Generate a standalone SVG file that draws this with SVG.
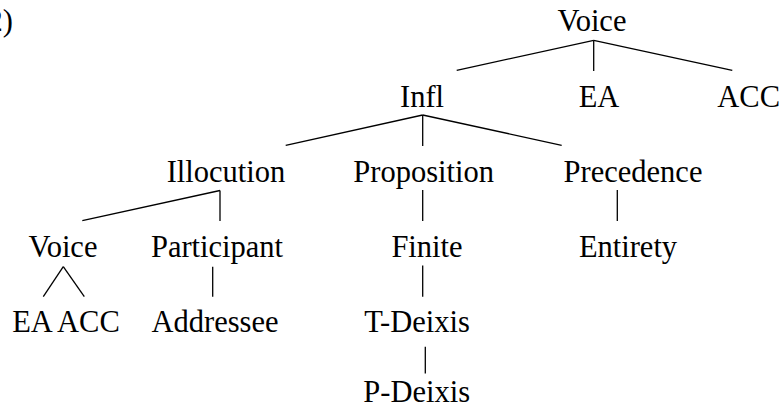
<svg xmlns="http://www.w3.org/2000/svg" width="782" height="407" viewBox="0 0 782 407">
<style>
text{font-family:"Liberation Serif","Times New Roman",serif;font-size:30.5px;fill:#000;text-anchor:middle}
.c line{stroke:#000;stroke-width:1.3;fill:none}
</style>
<rect width="782" height="407" fill="#fff"/>
<text x="13" y="31" style="text-anchor:end">2)</text>
<g class="c" id="connectors">
<line x1="593.7" y1="40.3" x2="456.7" y2="70.3"/>
<line x1="593.7" y1="40.3" x2="593.7" y2="71"/>
<line x1="593.7" y1="40.3" x2="732.3" y2="70.3"/>
<line x1="422.7" y1="115" x2="285.7" y2="145.3"/>
<line x1="422.7" y1="115" x2="422.7" y2="146"/>
<line x1="422.7" y1="115" x2="561.7" y2="145.3"/>
<line x1="220" y1="190.5" x2="82.3" y2="220.7"/>
<line x1="220" y1="190.5" x2="220" y2="221"/>
<line x1="422.7" y1="190" x2="422.7" y2="221"/>
<line x1="617.3" y1="190" x2="617.3" y2="221"/>
<line x1="63.3" y1="266.7" x2="43.3" y2="296.7"/>
<line x1="63.3" y1="266.7" x2="84.3" y2="296.7"/>
<line x1="212.7" y1="266.7" x2="212.7" y2="296.7"/>
<line x1="422.7" y1="265.5" x2="422.7" y2="296.7"/>
<line x1="425.3" y1="346.7" x2="425.3" y2="373.5"/>
</g>
<g id="voice-root"><text x="592" y="30.7">Voice</text></g>
<g id="infl"><text x="422" y="106.7">Infl</text></g>
<g id="ea-top"><text x="599" y="106.7">EA</text></g>
<g id="acc-top"><text x="748.7" y="106.7">ACC</text></g>
<g id="illocution"><text x="226" y="181.5">Illocution</text></g>
<g id="proposition"><text x="423.7" y="181.5">Proposition</text></g>
<g id="precedence"><text x="633" y="181.5">Precedence</text></g>
<g id="voice-low"><text x="63" y="256.7">Voice</text></g>
<g id="participant"><text x="217" y="256.7">Participant</text></g>
<g id="finite"><text x="427" y="256.7">Finite</text></g>
<g id="entirety"><text x="628" y="256.7">Entirety</text></g>
<g id="ea-acc"><text x="66" y="331.7">EA ACC</text></g>
<g id="addressee"><text x="215" y="331.7">Addressee</text></g>
<g id="t-deixis"><text x="417" y="331.7">T-Deixis</text></g>
<g id="p-deixis"><text x="416.7" y="401.7">P-Deixis</text></g>
</svg>
